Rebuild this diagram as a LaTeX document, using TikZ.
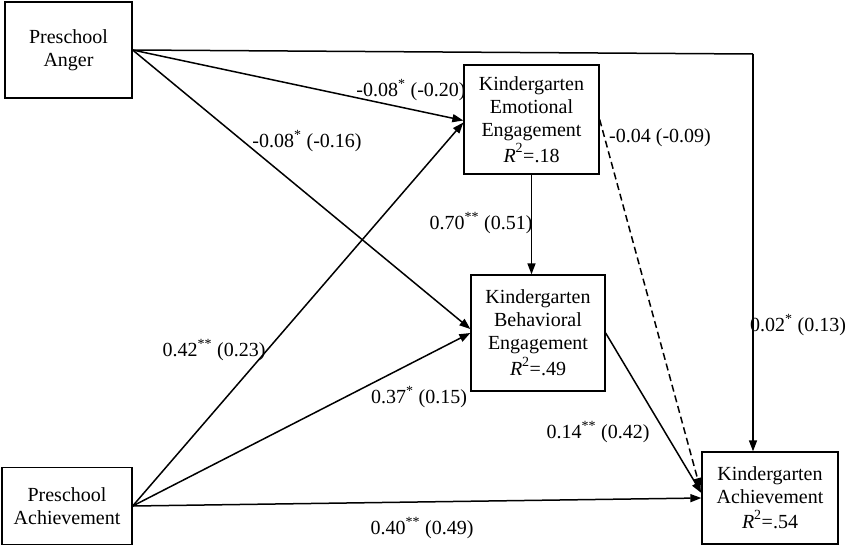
\documentclass[tikz,border=0pt]{standalone}
\usepackage{fontspec}
\setmainfont{Liberation Serif}
\usetikzlibrary{arrows.meta}
\newcommand{\rsq}{\textit{R}\raisebox{2pt}{\textsuperscript{2}}}
\begin{document}
\begin{tikzpicture}[x=1pt,y=-1pt,
  box/.style={draw, line width=1.3pt, align=center, inner sep=0pt, font=\fontsize{20}{23}\selectfont},
  lbl/.style={font=\fontsize{20}{23}\selectfont, inner sep=0pt},
  conn/.style={line width=1.5pt, -{Triangle[length=11pt,width=8pt]}},
]
\useasboundingbox (0,0) rectangle (850,546);
\node[box, minimum width=127pt, minimum height=96pt] (anger) at (68.5,50) {Preschool\\Anger};
\node[box, minimum width=130pt, minimum height=77pt] (pach) at (67,506) {Preschool\\Achievement};
\node[box, minimum width=135pt, minimum height=109pt] (emo) at (531.5,119.5) {Kindergarten\\Emotional\\Engagement\\[2pt]\rsq=.18};
\node[box, minimum width=134pt, minimum height=116pt] (beh) at (538,333) {Kindergarten\\Behavioral\\Engagement\\[2pt]\rsq=.49};
\node[box, minimum width=136pt, minimum height=92pt] (kach) at (770,498) {Kindergarten\\Achievement\\[2pt]\rsq=.54};
\coordinate (turn) at (753,54);
% connectors
\draw[line width=1.5pt] (anger.east) -- (turn);
\draw[conn] (turn) -- (turn |- kach.north);
\draw[conn] (anger.east) -- ([yshift=-1pt]emo.west);
\draw[conn] (anger.east) -- ([yshift=4pt]beh.west);
\draw[conn] (pach.east) -- ([yshift=-3pt]emo.west);
\draw[conn] (pach.east) -- ([yshift=0pt]beh.west);
\draw[conn] (pach.east) -- (kach.west);
\draw[conn] (emo.south) -- (emo.south |- beh.north);
\draw[conn] (beh.east) -- ([yshift=5pt]kach.west);
\draw[conn, dash pattern=on 7pt off 4pt] (emo.east) -- ([xshift=-1pt,yshift=9pt]kach.west);
% labels
\node[lbl] (l1) at (411,90) {-0.08\textsuperscript{*} (-0.20)};
\node[lbl] (l2) at (307,141) {-0.08\textsuperscript{*} (-0.16)};
\node[lbl] (l3) at (660,138) {-0.04 (-0.09)};
\node[lbl] (l4) at (481,223) {0.70\textsuperscript{**} (0.51)};
\node[lbl] (l5) at (798,325) {0.02\textsuperscript{*} (0.13)};
\node[lbl] (l6) at (214,350) {0.42\textsuperscript{**} (0.23)};
\node[lbl] (l7) at (419,397) {0.37\textsuperscript{*} (0.15)};
\node[lbl] (l8) at (598,432) {0.14\textsuperscript{**} (0.42)};
\node[lbl] (l9) at (422,528) {0.40\textsuperscript{**} (0.49)};
\end{tikzpicture}
\end{document}
